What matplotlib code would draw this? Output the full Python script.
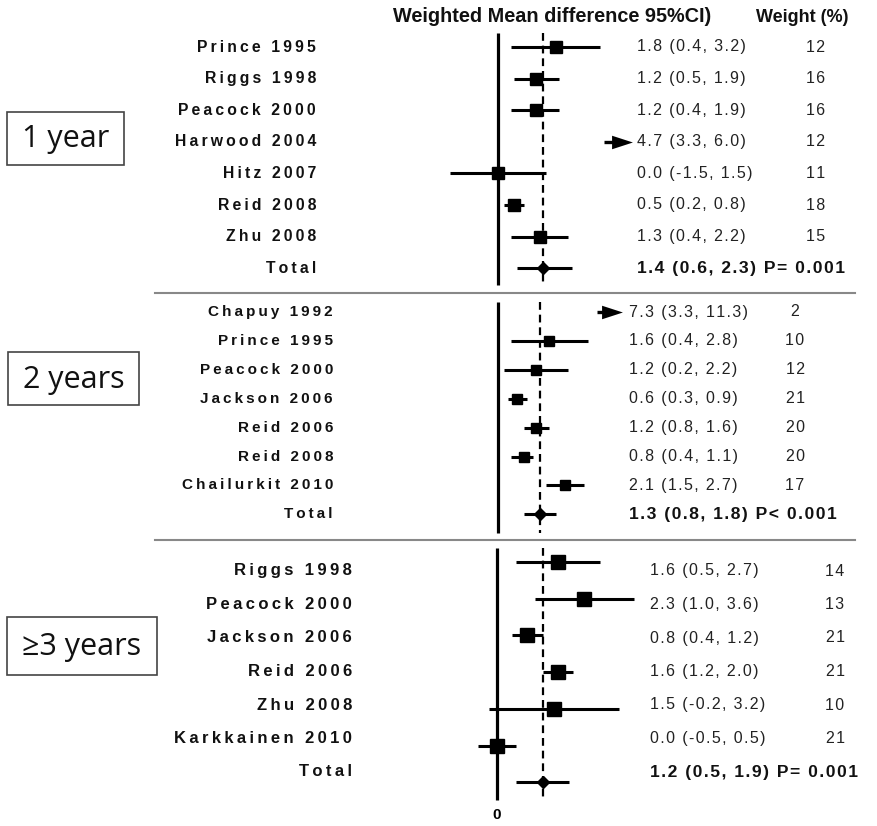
import matplotlib
matplotlib.use("Agg")
import matplotlib.pyplot as plt
from matplotlib.patches import Rectangle

# ---------------- data ----------------
s1_studies = ["Prince 1995", "Riggs 1998", "Peacock 2000", "Harwood 2004", "Hitz 2007", "Reid 2008", "Zhu 2008"]
s1_est = [1.8, 1.2, 1.2, 4.7, 0.0, 0.5, 1.3]
s1_lo = [0.4, 0.5, 0.4, 3.3, -1.5, 0.2, 0.4]
s1_hi = [3.2, 1.9, 1.9, 6.0, 1.5, 0.8, 2.2]
s1_wt = [12, 16, 16, 12, 11, 18, 15]
s1_total = [1.4, 0.6, 2.3]
s1_p = "P= 0.001"

s2_studies = ["Chapuy 1992", "Prince 1995", "Peacock 2000", "Jackson 2006", "Reid 2006", "Reid 2008", "Chailurkit 2010"]
s2_est = [7.3, 1.6, 1.2, 0.6, 1.2, 0.8, 2.1]
s2_lo = [3.3, 0.4, 0.2, 0.3, 0.8, 0.4, 1.5]
s2_hi = [11.3, 2.8, 2.2, 0.9, 1.6, 1.1, 2.7]
s2_wt = [2, 10, 12, 21, 20, 20, 17]
s2_total = [1.3, 0.8, 1.8]
s2_p = "P< 0.001"

s3_studies = ["Riggs 1998", "Peacock 2000", "Jackson 2006", "Reid 2006", "Zhu 2008", "Karkkainen 2010"]
s3_est = [1.6, 2.3, 0.8, 1.6, 1.5, 0.0]
s3_lo = [0.5, 1.0, 0.4, 1.2, -0.2, -0.5]
s3_hi = [2.7, 3.6, 1.2, 2.0, 3.2, 0.5]
s3_wt = [14, 13, 21, 21, 10, 21]
s3_total = [1.2, 0.5, 1.9]
s3_p = "P= 0.001"

group_labels = ["1 year", "2 years", "\u22653 years"]
header_ci = "Weighted Mean difference 95%CI)"
header_wt = "Weight (%)"
total_label = "Total"

# ---------------- layout ----------------
W, H = 877, 826
fig = plt.figure(figsize=(W / 100, H / 100), dpi=100)
fig.patch.set_facecolor("white")

SANS = ["Liberation Sans", "DejaVu Sans"]
ARROW_HEAD = [(-1, -0.65), (1, 0), (-1, 0.65), (-1, -0.65)]


def fx(x):
    return x / W


def fy(y):
    return 1 - y / H


def track(s, sp):
    return sp.join(s)


layouts = [
    dict(zero=498, scale=32, row0=47, step=31.6, line=(33, 285), ax_x=(430, 632),
         trow0=47, tstep=31.6, lab_r=316, est_l=637, wt_c=816, lab_fs=11.3, msz=8.0,
         box=(7, 112, 124, 165)),
    dict(zero=498, scale=32, row0=312, step=28.9, line=(302, 533), ax_x=(430, 622),
         trow0=312, tstep=28.9, lab_r=333, est_l=629, wt_c=795, lab_fs=11.0, msz=7.5,
         box=(8, 352, 139, 405)),
    dict(zero=497, scale=38, row0=562, step=36.7, line=(548, 800), ax_x=(430, 640),
         trow0=571, tstep=33.5, lab_r=352, est_l=650, wt_c=835, lab_fs=12.0, msz=10.5,
         box=(7, 617, 157, 675)),
]

sections = [
    (s1_studies, s1_est, s1_lo, s1_hi, s1_wt, s1_total, s1_p),
    (s2_studies, s2_est, s2_lo, s2_hi, s2_wt, s2_total, s2_p),
    (s3_studies, s3_est, s3_lo, s3_hi, s3_wt, s3_total, s3_p),
]

for k, (lay, sec) in enumerate(zip(layouts, sections)):
    studies, est, lo, hi, wt, tot, pval = sec
    ax_y0, ax_y1 = lay["line"][0] - 6, lay["line"][1] + 6
    x0, x1 = lay["ax_x"]
    ax = fig.add_axes([fx(x0), fy(ax_y1), (x1 - x0) / W, (ax_y1 - ax_y0) / H])
    sc = lay["scale"]
    xmin = (x0 - lay["zero"]) / sc
    xmax = (x1 - lay["zero"]) / sc
    ax.set_xlim(xmin, xmax)
    ax.set_ylim((ax_y1 - lay["row0"]) / lay["step"], (ax_y0 - lay["row0"]) / lay["step"])
    ax.axis("off")

    ltop = (lay["line"][0] - lay["row0"]) / lay["step"]
    lbot = (lay["line"][1] - lay["row0"]) / lay["step"]
    # zero line
    ax.plot([0, 0], [ltop, lbot], color="black", lw=2.3, solid_capstyle="butt", zorder=2)
    # pooled estimate dashed line
    ax.plot([tot[0], tot[0]], [ltop, lbot], color="black", lw=1.6,
            linestyle=(0, (3.5, 2.2)), zorder=1)

    n = len(studies)
    for i in range(n):
        if hi[i] > xmax:
            # CI runs off the scale: truncated line ending in an arrow head
            start = min(lo[i], xmax - 25 / sc)
            ax.plot([start, xmax - 14 / sc], [i, i], color="black", lw=2.4,
                    solid_capstyle="butt", zorder=5)
            ax.plot([xmax - 10 / sc], [i], marker=ARROW_HEAD, color="black",
                    markersize=15, markeredgewidth=0, zorder=6, clip_on=False)
        else:
            ax.plot([lo[i], hi[i]], [i, i], color="black", lw=2.2,
                    solid_capstyle="butt", zorder=3)
        if est[i] <= xmax:
            ax.plot([est[i]], [i], marker="s", color="black", markersize=lay["msz"], zorder=4)
    # total
    ax.plot([tot[1], tot[2]], [n, n], color="black", lw=2.2, solid_capstyle="butt", zorder=3)
    ax.plot([tot[0]], [n], marker="D", color="black", markersize=6.5, zorder=4)

    # text columns
    for i in range(n + 1):
        ty = lay["trow0"] + i * lay["tstep"]
        name = studies[i] if i < n else total_label
        fig.text(fx(lay["lab_r"]), fy(ty), track(name, "\u2009"), ha="right", va="center",
                 fontsize=lay["lab_fs"], fontweight="bold", family=SANS, color="#111111")
        if i < n:
            s = f"{est[i]:.1f} ({lo[i]:.1f}, {hi[i]:.1f})"
            fig.text(fx(lay["est_l"]), fy(ty), track(s, "\u200a"), ha="left", va="center",
                     fontsize=11.5, color="#222222", family=SANS)
            fig.text(fx(lay["wt_c"]), fy(ty), track(str(wt[i]), "\u200a"), ha="center",
                     va="center", fontsize=11.5, color="#222222", family=SANS)
        else:
            s = f"{tot[0]:.1f} ({tot[1]:.1f}, {tot[2]:.1f}) {pval}"
            fig.text(fx(lay["est_l"]), fy(ty), track(s, "\u200a"), ha="left", va="center",
                     fontsize=12.6, fontweight="bold", color="#111111", family=SANS)

    # group box
    bx0, by0, bx1, by1 = lay["box"]
    fig.patches.append(Rectangle((fx(bx0), fy(by1)), (bx1 - bx0) / W, (by1 - by0) / H,
                                 transform=fig.transFigure, fill=False,
                                 edgecolor="#444444", lw=1.2))
    fig.text(fx((bx0 + bx1) / 2), fy((by0 + by1) / 2 + 1), group_labels[k], ha="center",
             va="center", fontsize=22, family=["Open Sans", "DejaVu Sans"], color="#111111")

# separators
for ysep in (293, 540):
    fig.add_artist(plt.Line2D([fx(155), fx(855)], [fy(ysep), fy(ysep)],
                              transform=fig.transFigure, color="#888888", lw=1.5))

# header
fig.text(fx(552), fy(17), header_ci, ha="center", va="center", fontsize=14.3,
         fontweight="bold", family=SANS, color="#111111")
fig.text(fx(802), fy(17), header_wt, ha="center", va="center", fontsize=13,
         fontweight="bold", family=SANS, color="#111111")
# zero tick label
fig.text(fx(497), fy(815), "0", ha="center", va="center", fontsize=11,
         fontweight="bold", family=SANS)

fig.savefig("out.png", dpi=100, facecolor="white")
